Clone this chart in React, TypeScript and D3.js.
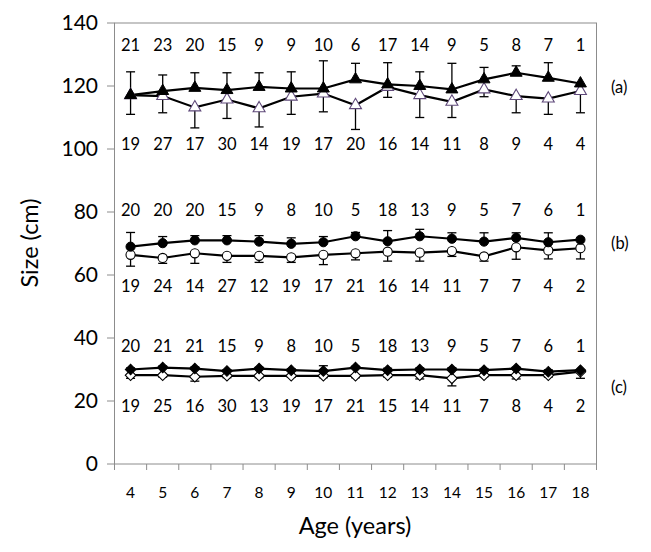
import React from 'react';
import * as d3 from 'd3';

// ages on the x axis
const ages = [4, 5, 6, 7, 8, 9, 10, 11, 12, 13, 14, 15, 16, 17, 18];

// (a) triangles
const aFilled = [117.1, 118.4, 119.4, 118.7, 119.7, 119.2, 119.2, 122.1, 120.5, 120, 118.9, 122.1, 124.2, 122.6, 120.8];
const aFilledErr = [7.4, 5.1, 4.8, 5.5, 4.5, 5.3, 8.8, 5.1, 6.9, 4.5, 8.3, 3.8, 2.2, 4.8, 0];
const aOpen = [117.1, 116.8, 113.2, 115.7, 112.9, 116.6, 117.6, 113.9, 119.7, 117.1, 115, 118.9, 116.8, 116, 118.4];
const aOpenErr = [6.1, 5.3, 6.5, 6, 5.9, 5.6, 5.8, 7.7, 3.3, 7.1, 5, 2.3, 5.3, 5, 6.9];
const aTopN = [21, 23, 20, 15, 9, 9, 10, 6, 17, 14, 9, 5, 8, 7, 1];
const aBotN = [19, 27, 17, 30, 14, 19, 17, 20, 16, 14, 11, 8, 9, 4, 4];

// (b) circles
const bFilled = [69, 70.1, 71, 71, 70.6, 69.9, 70.4, 72.3, 70.7, 72.3, 71.5, 70.6, 71.8, 70.4, 71.2];
const bFilledErr = [4.5, 2.1, 1.5, 1.5, 1.9, 1.9, 1.8, 1.2, 3.4, 2.2, 1.9, 2.8, 1.6, 3.0, 0];
const bOpen = [66.4, 65.4, 66.9, 66.1, 66.1, 65.6, 66.4, 66.9, 67.4, 67.1, 67.6, 65.9, 68.8, 67.8, 68.5];
const bOpenErr = [3.6, 1.7, 3.2, 2.1, 2.1, 1.6, 3.1, 2.1, 3.0, 2.7, 1.7, 1.5, 3.8, 2.7, 3.4];
const bTopN = [20, 20, 20, 15, 9, 8, 10, 5, 18, 13, 9, 5, 7, 6, 1];
const bBotN = [19, 24, 14, 27, 12, 19, 17, 21, 16, 14, 11, 7, 7, 4, 2];

// (c) diamonds
const cFilled = [30, 30.6, 30.3, 29.5, 30.3, 29.8, 29.5, 30.6, 29.8, 30, 30, 29.8, 30.3, 29.3, 29.8];
const cFilledErr = [0.5, 0.5, 0.5, 0.4, 0.4, 0.4, 1.7, 0.4, 0.6, 0.5, 0.6, 0.5, 0.4, 0.6, 0];
const cOpen = [28.2, 28.2, 27.7, 28, 28, 28, 28, 28, 28.2, 28.2, 27.2, 28.2, 28.2, 28.2, 29.3];
const cOpenErr = [1, 0.6, 1.4, 0.6, 0.6, 0.5, 0.6, 0.6, 0.6, 1.2, 2.4, 0.5, 1.2, 0.6, 2.1];
const cTopN = [20, 21, 21, 15, 9, 8, 10, 5, 18, 13, 9, 5, 7, 6, 1];
const cBotN = [19, 25, 16, 30, 13, 19, 17, 21, 15, 14, 11, 7, 8, 4, 2];

const yTicks = [0, 20, 40, 60, 80, 100, 120, 140];

const W = 651, H = 552;
const font = 'Lato, "Open Sans", sans-serif';
const axisColor = '#8c8c8c';

export default function App() {
  const x = d3.scaleBand<number>().domain(ages).range([114.5, 596.5]).padding(0);
  const y = d3.scaleLinear().domain([0, 140]).range([464, 23]);
  const cx = (a: number) => (x(a) as number) + x.bandwidth() / 2;

  const tri = d3.symbol().type(d3.symbolTriangle).size(62)() as string;
  const circ = d3.symbol().type(d3.symbolCircle).size(66)() as string;
  const diam = d3.symbol().type(d3.symbolSquare).size(56)() as string;
  const line = d3.line<number>().x((_, i) => cx(ages[i])).y(d => y(d));

  const series = [
    { filled: aFilled, fErr: aFilledErr, open: aOpen, oErr: aOpenErr, path: tri, rot: 0, openStroke: '#5f497a', top: aTopN, bot: aBotN, topY: 133, botY: 101.5, tag: '(a)', tagY: 119.5 },
    { filled: bFilled, fErr: bFilledErr, open: bOpen, oErr: bOpenErr, path: circ, rot: 0, openStroke: '#000', top: bTopN, bot: bBotN, topY: 80.5, botY: 56.5, tag: '(b)', tagY: 70 },
    { filled: cFilled, fErr: cFilledErr, open: cOpen, oErr: cOpenErr, path: diam, rot: 45, openStroke: '#000', top: cTopN, bot: cBotN, topY: 37.5, botY: 18.5, tag: '(c)', tagY: 24.5 },
  ];

  return (
    <svg width={W} height={H} style={{ position: 'absolute', left: 0, top: 0, background: '#fff' }} fontFamily={font}>
      {/* plot frame */}
      <rect x={114.5} y={23} width={482} height={441} fill="none" stroke={axisColor} strokeWidth={1} />
      {yTicks.map(t => (
        <g key={t}>
          <line x1={107} x2={114.5} y1={y(t)} y2={y(t)} stroke={axisColor} />
          <text x={98} y={y(t)} dy="0.35em" textAnchor="end" fontSize={21}>{t}</text>
        </g>
      ))}
      {ages.map(a => (
        <line key={'xt' + a} x1={x(a) as number} x2={x(a) as number} y1={464} y2={470} stroke={axisColor} />
      ))}
      <line x1={596.5} x2={596.5} y1={464} y2={470} stroke={axisColor} />
      {ages.map(a => (
        <text key={'xl' + a} x={cx(a)} y={493} dy="0.35em" textAnchor="middle" fontSize={15.5}>{a}</text>
      ))}
      <text x={355} y={526} dy="0.35em" textAnchor="middle" fontSize={23.5}>Age (years)</text>
      <text transform={`translate(30,243) rotate(-90)`} dy="0.35em" textAnchor="middle" fontSize={23.5}>Size (cm)</text>

      {series.map((s, k) => (
        <g key={k}>
          {/* error bars */}
          {s.open.map((v, i) => s.oErr[i] > 0 && (
            <g key={'oe' + i} stroke="#000" strokeWidth={1.3}>
              <line x1={cx(ages[i])} x2={cx(ages[i])} y1={y(v)} y2={y(v - s.oErr[i])} />
              <line x1={cx(ages[i]) - 4.5} x2={cx(ages[i]) + 4.5} y1={y(v - s.oErr[i])} y2={y(v - s.oErr[i])} />
            </g>
          ))}
          {s.filled.map((v, i) => s.fErr[i] > 0 && (
            <g key={'fe' + i} stroke="#000" strokeWidth={1.3}>
              <line x1={cx(ages[i])} x2={cx(ages[i])} y1={y(v)} y2={y(v + s.fErr[i])} />
              <line x1={cx(ages[i]) - 4.5} x2={cx(ages[i]) + 4.5} y1={y(v + s.fErr[i])} y2={y(v + s.fErr[i])} />
            </g>
          ))}
          <path d={line(s.open) as string} fill="none" stroke="#000" strokeWidth={2.2} />
          <path d={line(s.filled) as string} fill="none" stroke="#000" strokeWidth={2.2} />
          {s.open.map((v, i) => (
            <path key={'om' + i} d={s.path} transform={`translate(${cx(ages[i])},${y(v)}) rotate(${s.rot})`}
              fill="#fff" stroke={s.openStroke} strokeWidth={1.1} />
          ))}
          {s.filled.map((v, i) => (
            <path key={'fm' + i} d={s.path} transform={`translate(${cx(ages[i])},${y(v)}) rotate(${s.rot})`}
              fill="#000" stroke="#000" strokeWidth={1} />
          ))}
          {/* sample sizes */}
          {s.top.map((n, i) => (
            <text key={'tn' + i} x={cx(ages[i])} y={y(s.topY)} dy="0.35em" textAnchor="middle" fontSize={16.5}>{n}</text>
          ))}
          {s.bot.map((n, i) => (
            <text key={'bn' + i} x={cx(ages[i])} y={y(s.botY)} dy="0.35em" textAnchor="middle" fontSize={16.5}>{n}</text>
          ))}
          <text x={611} y={y(s.tagY)} dy="0.35em" fontSize={16.5}>{s.tag}</text>
        </g>
      ))}
    </svg>
  );
}
